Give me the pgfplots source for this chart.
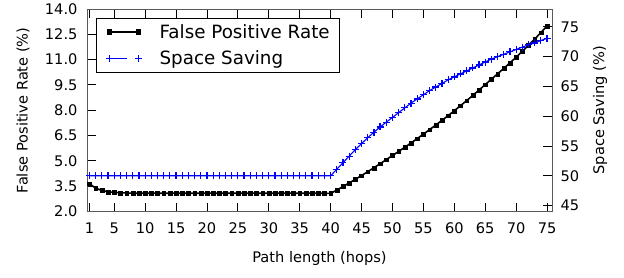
\documentclass[border=0pt]{standalone}
\usepackage{pgfplots}
\usepackage{pgfplotstable}
\pgfplotsset{compat=1.18}
\usepackage{fontspec}
\setmainfont{DejaVu Sans}

\pgfplotstableread{
x fpr ss
1 3.65 50
2 3.38 50
3 3.25 50
4 3.17 50
5 3.13 50
6 3.11 50
7 3.10 50
8 3.08 50
9 3.08 50
10 3.08 50
11 3.08 50
12 3.08 50
13 3.08 50
14 3.08 50
15 3.08 50
16 3.08 50
17 3.08 50
18 3.08 50
19 3.08 50
20 3.08 50
21 3.08 50
22 3.08 50
23 3.08 50
24 3.08 50
25 3.08 50
26 3.08 50
27 3.08 50
28 3.08 50
29 3.08 50
30 3.08 50
31 3.08 50
32 3.08 50
33 3.08 50
34 3.08 50
35 3.08 50
36 3.08 50
37 3.08 50
38 3.08 50
39 3.08 50
40 3.07 50
41 3.27 51.1
42 3.48 52.2
43 3.69 53.3
44 3.91 54.4
45 4.13 55.4
46 4.36 56.4
47 4.59 57.3
48 4.83 58.2
49 5.07 59.0
50 5.32 59.8
51 5.56 60.6
52 5.81 61.4
53 6.06 62.2
54 6.32 62.9
55 6.58 63.6
56 6.85 64.3
57 7.12 64.9
58 7.40 65.5
59 7.68 66.1
60 7.97 66.6
61 8.27 67.1
62 8.57 67.6
63 8.88 68.1
64 9.20 68.6
65 9.52 69.1
66 9.84 69.6
67 10.16 70.0
68 10.48 70.4
69 10.81 70.8
70 11.14 71.2
71 11.49 71.6
72 11.85 72.0
73 12.22 72.3
74 12.60 72.7
75 13.00 73.1
}\datatable

\pgfplotsset{
  common/.style={
    scale only axis, width=465pt, height=202.5pt,
    xmin=0.6, xmax=75.8,
    tick align=inside,
    major tick length=9pt,
    axis line style={black!65, line width=0.8pt},
    tick style={black, line width=0.9pt},
    /pgf/number format/assume math mode=true,
    tick label style={font=\fontsize{14.6}{16}\selectfont},
    label style={font=\fontsize{14.6}{17}\selectfont},
  }
}

\begin{document}
\begin{tikzpicture}
\useasboundingbox (-87pt,-65.5pt) rectangle (537pt,211.5pt);
\begin{axis}[
  common,
  ymin=2, ymax=14,
  xtick={1,5,10,15,20,25,30,35,40,45,50,55,60,65,70,75},
  ytick={2,3.5,5,6.5,8,9.5,11,12.5,14},
  xtick pos=both, ytick pos=left,
  yticklabel style={/pgf/number format/fixed, /pgf/number format/fixed zerofill, /pgf/number format/precision=1, xshift=-6pt},
  xticklabel style={yshift=-8pt},
  xlabel={Path length (hops)},
  ylabel={False Positive Rate (\%)},
  xlabel style={at={(axis description cs:0.5,-0.2296)}, anchor=center},
  ylabel style={at={(axis description cs:-0.1376,0.5)}, anchor=center},
  legend style={at={(axis description cs:0.0194,0.9556)}, anchor=north west,
    draw=black, line width=0.8pt, font=\fontsize{18.3}{22}\selectfont,
    inner xsep=9pt, inner ysep=0.5pt, row sep=0pt,
    nodes={inner xsep=1pt, inner ysep=5.5pt},
    /tikz/every odd column/.append style={column sep=16pt}},
  legend cell align=left,
]
\addplot[black, line width=1.6pt, mark=square*, mark size=1.9pt, mark options={line width=0.3pt},
  legend image code/.code={
    \draw[black, line width=1.6pt] (0pt,0pt) -- (29pt,0pt);
    \fill[black] (-1.9pt,-1.9pt) rectangle (1.9pt,1.9pt);
    \fill[black] (27.1pt,-1.9pt) rectangle (30.9pt,1.9pt);
  }] table[x=x, y=fpr] {\datatable};
\addlegendentry{False Positive Rate}
\addlegendimage{legend image code/.code={
    \draw[blue, line width=1.2pt] (0pt,0pt) -- (17pt,0pt);
    \draw[blue, line width=1.2pt] (-3.5pt,0pt) -- (3.5pt,0pt) (0pt,-3.5pt) -- (0pt,3.5pt);
    \draw[blue, line width=1.2pt] (25.5pt,0pt) -- (32.5pt,0pt) (29pt,-3.5pt) -- (29pt,3.5pt);
  }}
\addlegendentry{Space Saving}
\end{axis}
\begin{axis}[
  common,
  ymin=44, ymax=78,
  axis x line=none,
  axis y line*=right,
  ytick={45,50,55,60,65,70,75},
  ytick pos=right,
  yticklabel style={xshift=5pt},
  ylabel={Space Saving (\%)},
  ylabel style={at={(axis description cs:1.1032,0.5)}, anchor=center},
]
\addplot[blue, line width=1.1pt, mark=+, mark size=3.5pt, mark options={line width=1.2pt}] table[x=x, y=ss] {\datatable};
\end{axis}
\end{tikzpicture}
\end{document}
